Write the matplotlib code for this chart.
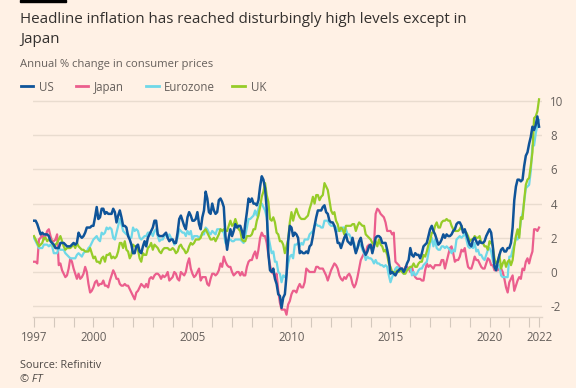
import numpy as np
import matplotlib
matplotlib.use("Agg")
import matplotlib.pyplot as plt
from matplotlib.patches import Rectangle

# ---------------- data (annual % change, monthly Jan 1997 - Jul 2022) ----------------
us = [3.0, 3.0, 2.8, 2.5, 2.2, 2.3, 2.2, 2.2, 2.2, 2.1, 1.8, 1.7,
      1.6, 1.4, 1.4, 1.4, 1.7, 1.7, 1.7, 1.6, 1.5, 1.5, 1.5, 1.6,
      1.7, 1.6, 1.7, 2.3, 2.1, 2.0, 2.1, 2.3, 2.6, 2.6, 2.6, 2.7,
      2.7, 3.2, 3.8, 3.1, 3.2, 3.7, 3.7, 3.4, 3.5, 3.4, 3.4, 3.4,
      3.7, 3.5, 2.9, 3.3, 3.6, 3.2, 2.7, 2.7, 2.6, 2.1, 1.9, 1.6,
      1.1, 1.1, 1.5, 1.6, 1.2, 1.1, 1.5, 1.8, 1.5, 2.0, 2.2, 2.4,
      2.6, 3.0, 3.0, 2.2, 2.1, 2.1, 2.1, 2.2, 2.3, 2.0, 1.8, 1.9,
      1.9, 1.7, 1.7, 2.3, 3.1, 3.3, 3.0, 2.7, 2.5, 3.2, 3.5, 3.3,
      3.0, 3.0, 3.1, 3.5, 2.8, 2.5, 3.2, 3.6, 4.7, 4.3, 3.5, 3.4,
      4.0, 3.6, 3.4, 3.5, 4.2, 4.3, 4.1, 3.8, 2.1, 1.3, 2.0, 2.5,
      2.1, 2.4, 2.8, 2.6, 2.7, 2.7, 2.4, 2.0, 2.8, 3.5, 4.3, 4.1,
      4.3, 4.0, 4.0, 3.9, 4.2, 5.0, 5.6, 5.4, 4.9, 3.7, 1.1, 0.1,
      0.0, 0.2, -0.4, -0.7, -1.3, -1.4, -2.1, -1.5, -1.3, -0.2, 1.8, 2.7,
      2.6, 2.1, 2.3, 2.2, 2.0, 1.1, 1.2, 1.1, 1.1, 1.2, 1.1, 1.5,
      1.6, 2.1, 2.7, 3.2, 3.6, 3.6, 3.6, 3.8, 3.9, 3.5, 3.4, 3.0,
      2.9, 2.9, 2.7, 2.3, 1.7, 1.7, 1.4, 1.7, 2.0, 2.2, 1.8, 1.7,
      1.6, 2.0, 1.5, 1.1, 1.4, 1.8, 2.0, 1.5, 1.2, 1.0, 1.2, 1.5,
      1.6, 1.1, 1.5, 2.0, 2.1, 2.1, 2.0, 1.7, 1.7, 1.7, 1.3, 0.8,
      -0.1, 0.0, -0.1, -0.2, 0.0, 0.1, 0.2, 0.2, 0.0, 0.2, 0.5, 0.7,
      1.4, 1.0, 0.9, 1.1, 1.0, 1.0, 0.8, 1.1, 1.5, 1.6, 1.7, 2.1,
      2.5, 2.7, 2.4, 2.2, 1.9, 1.6, 1.7, 1.9, 2.2, 2.0, 2.2, 2.1,
      2.1, 2.2, 2.4, 2.5, 2.8, 2.9, 2.9, 2.7, 2.3, 2.5, 2.2, 1.9,
      1.6, 1.5, 1.9, 2.0, 1.8, 1.6, 1.8, 1.7, 1.7, 1.8, 2.1, 2.3,
      2.5, 2.3, 1.5, 0.3, 0.1, 0.6, 1.0, 1.3, 1.4, 1.2, 1.2, 1.4,
      1.4, 1.7, 2.6, 4.2, 5.0, 5.4, 5.4, 5.3, 5.4, 6.2, 6.8, 7.0,
      7.5, 7.9, 8.5, 8.3, 8.6, 9.1, 8.5]

japan = [0.6, 0.6, 0.5, 1.9, 2.0, 2.2, 1.9, 2.1, 2.4, 2.5, 2.1, 1.8,
         1.8, 1.9, 2.2, 0.4, 0.5, 0.1, -0.1, -0.3, -0.2, 0.2, 0.8, 0.6,
         0.2, -0.1, -0.4, -0.1, -0.4, -0.3, -0.1, 0.3, 0.0, -0.7, -1.2, -1.1,
         -0.9, -0.6, -0.5, -0.8, -0.7, -0.7, -0.5, -0.8, -0.8, -0.9, -0.5, -0.2,
         0.1, -0.1, -0.4, -0.4, -0.7, -0.8, -0.8, -0.7, -0.8, -0.8, -1.0, -1.2,
         -1.4, -1.6, -1.2, -1.1, -0.9, -0.7, -0.8, -0.9, -0.7, -0.9, -0.4, -0.3,
         -0.4, -0.2, -0.1, -0.1, -0.2, -0.4, -0.2, -0.3, -0.2, 0.0, -0.5, -0.4,
         -0.3, 0.0, -0.1, -0.4, -0.5, 0.0, -0.1, -0.2, 0.0, 0.5, 0.8, 0.2,
         -0.1, -0.3, -0.2, 0.0, 0.2, -0.5, -0.3, -0.3, -0.3, -0.7, -0.8, -0.4,
         -0.1, -0.1, -0.2, -0.1, 0.1, 0.5, 0.3, 0.9, 0.6, 0.4, 0.3, 0.3,
         0.0, -0.2, -0.1, 0.0, 0.0, -0.2, 0.0, -0.2, -0.2, 0.3, 0.6, 0.7,
         0.7, 1.0, 1.2, 0.8, 1.3, 2.0, 2.3, 2.1, 2.1, 1.7, 1.0, 0.4,
         0.0, -0.1, -0.3, -0.1, -1.1, -1.8, -2.2, -2.2, -2.2, -2.5, -1.9, -1.7,
         -1.3, -1.1, -1.1, -1.2, -0.9, -0.7, -0.9, -0.9, -0.6, 0.2, 0.1, 0.0,
         0.0, 0.0, 0.0, 0.3, 0.3, 0.2, 0.2, 0.2, 0.0, -0.2, -0.5, -0.2,
         0.1, 0.3, 0.5, 0.4, 0.2, -0.2, -0.4, -0.5, -0.3, -0.4, -0.2, -0.1,
         -0.3, -0.7, -0.9, -0.7, -0.3, 0.2, 0.7, 0.9, 1.1, 1.1, 1.5, 1.6,
         1.4, 1.5, 1.6, 3.4, 3.7, 3.6, 3.4, 3.3, 3.2, 2.9, 2.4, 2.4,
         2.4, 2.2, 2.3, 0.6, 0.5, 0.4, 0.2, 0.2, 0.0, 0.3, 0.3, 0.2,
         0.0, 0.3, -0.1, -0.3, -0.4, -0.4, -0.4, -0.5, -0.5, 0.1, 0.5, 0.3,
         0.4, 0.3, 0.2, 0.4, 0.4, 0.4, 0.4, 0.7, 0.7, 0.2, 0.6, 1.0,
         1.4, 1.5, 1.1, 0.6, 0.7, 0.7, 0.9, 1.3, 1.2, 1.4, 0.8, 0.3,
         0.2, 0.2, 0.5, 0.9, 0.7, 0.7, 0.5, 0.3, 0.2, 0.2, 0.5, 0.8,
         0.7, 0.4, 0.4, 0.1, 0.1, 0.1, 0.3, 0.2, 0.0, -0.4, -0.9, -1.2,
         -0.6, -0.4, -0.2, -1.1, -0.8, -0.5, -0.3, -0.4, 0.2, 0.1, 0.6, 0.8,
         0.5, 0.9, 1.2, 2.5, 2.5, 2.4, 2.6]

eurozone = [2.0, 1.8, 1.6, 1.4, 1.4, 1.4, 1.6, 1.6, 1.6, 1.5, 1.6, 1.5,
            1.1, 1.1, 1.1, 1.4, 1.3, 1.3, 1.3, 1.1, 1.0, 0.9, 0.8, 0.8,
            0.8, 0.8, 1.0, 1.1, 1.0, 0.9, 1.1, 1.2, 1.2, 1.4, 1.5, 1.7,
            1.9, 2.0, 2.1, 1.9, 1.8, 2.3, 2.2, 2.3, 2.6, 2.5, 2.6, 2.5,
            2.0, 1.9, 2.3, 2.7, 3.1, 2.8, 2.4, 2.3, 2.2, 2.2, 2.0, 2.0,
            2.6, 2.4, 2.5, 2.4, 2.0, 1.9, 2.0, 2.1, 2.1, 2.3, 2.3, 2.3,
            2.1, 2.4, 2.5, 2.1, 1.8, 1.9, 1.9, 2.1, 2.2, 2.0, 2.2, 2.0,
            1.9, 1.6, 1.7, 2.0, 2.5, 2.4, 2.3, 2.3, 2.1, 2.4, 2.2, 2.4,
            1.9, 2.1, 2.1, 2.1, 2.0, 2.1, 2.2, 2.2, 2.6, 2.5, 2.3, 2.2,
            2.4, 2.3, 2.2, 2.5, 2.5, 2.5, 2.4, 2.3, 1.7, 1.6, 1.9, 1.9,
            1.8, 1.8, 1.9, 1.9, 1.9, 1.9, 1.8, 1.7, 2.1, 2.6, 3.1, 3.1,
            3.2, 3.3, 3.6, 3.3, 3.7, 4.0, 4.0, 3.8, 3.6, 3.2, 2.1, 1.6,
            1.1, 1.2, 0.6, 0.6, 0.0, -0.1, -0.6, -0.2, -0.3, -0.1, 0.5, 0.9,
            1.0, 0.8, 1.6, 1.6, 1.7, 1.5, 1.7, 1.6, 1.9, 1.9, 1.9, 2.2,
            2.3, 2.4, 2.7, 2.8, 2.7, 2.7, 2.6, 2.6, 3.0, 3.0, 3.0, 2.8,
            2.7, 2.7, 2.7, 2.6, 2.4, 2.4, 2.4, 2.6, 2.6, 2.5, 2.2, 2.2,
            2.0, 1.8, 1.7, 1.2, 1.4, 1.6, 1.6, 1.3, 1.1, 0.7, 0.9, 0.8,
            0.8, 0.7, 0.5, 0.7, 0.5, 0.5, 0.4, 0.4, 0.3, 0.4, 0.3, -0.2,
            -0.6, -0.3, -0.1, 0.2, 0.3, 0.2, 0.2, 0.1, -0.1, 0.1, 0.1, 0.2,
            0.3, -0.2, 0.0, -0.2, -0.1, 0.1, 0.2, 0.2, 0.4, 0.5, 0.6, 1.1,
            1.7, 2.0, 1.5, 1.9, 1.4, 1.3, 1.3, 1.5, 1.5, 1.4, 1.5, 1.4,
            1.3, 1.1, 1.3, 1.2, 1.9, 2.0, 2.1, 2.0, 2.1, 2.3, 1.9, 1.5,
            1.4, 1.5, 1.4, 1.7, 1.2, 1.3, 1.0, 1.0, 0.8, 0.7, 1.0, 1.3,
            1.4, 1.2, 0.7, 0.3, 0.1, 0.3, 0.4, -0.2, -0.3, -0.3, -0.3, -0.3,
            0.9, 0.9, 1.3, 1.6, 2.0, 1.9, 2.2, 3.0, 3.4, 4.1, 4.9, 5.0,
            5.1, 5.9, 7.4, 7.4, 8.1, 8.6, 8.9]

uk = [2.1, 1.9, 1.7, 1.5, 1.6, 1.7, 2.0, 2.0, 1.8, 1.9, 1.9, 1.7,
      1.5, 1.6, 1.7, 1.9, 2.1, 1.8, 1.5, 1.3, 1.4, 1.4, 1.4, 1.5,
      1.6, 1.4, 1.7, 1.5, 1.4, 1.3, 1.3, 1.2, 1.2, 1.2, 1.4, 1.1,
      0.8, 0.9, 0.6, 0.6, 0.5, 0.8, 0.9, 0.6, 1.0, 1.0, 1.1, 0.8,
      0.9, 0.8, 0.9, 1.2, 1.7, 1.7, 1.4, 1.8, 1.3, 1.2, 0.8, 1.0,
      1.6, 1.5, 1.5, 1.3, 0.8, 0.6, 1.1, 1.0, 1.0, 1.4, 1.5, 1.7,
      1.3, 1.6, 1.5, 1.4, 1.2, 1.1, 1.3, 1.4, 1.4, 1.4, 1.3, 1.3,
      1.4, 1.3, 1.1, 1.2, 1.5, 1.6, 1.4, 1.3, 1.1, 1.2, 1.5, 1.7,
      1.6, 1.7, 1.9, 1.9, 1.9, 2.0, 2.3, 2.4, 2.5, 2.3, 2.1, 1.9,
      1.9, 2.0, 1.8, 2.0, 2.2, 2.5, 2.4, 2.5, 2.4, 2.4, 2.7, 3.0,
      2.7, 2.8, 3.1, 2.8, 2.5, 2.4, 1.9, 1.8, 1.8, 2.1, 2.1, 2.1,
      2.2, 2.5, 2.5, 3.0, 3.3, 3.8, 4.4, 4.7, 5.2, 4.5, 4.1, 3.1,
      3.0, 3.2, 2.9, 2.3, 2.2, 1.8, 1.8, 1.6, 1.1, 1.5, 1.9, 2.9,
      3.5, 3.0, 3.4, 3.7, 3.4, 3.2, 3.1, 3.1, 3.1, 3.2, 3.3, 3.7,
      4.0, 4.4, 4.0, 4.5, 4.5, 4.2, 4.4, 4.5, 5.2, 5.0, 4.8, 4.2,
      3.6, 3.4, 3.5, 3.0, 2.8, 2.4, 2.6, 2.5, 2.2, 2.7, 2.7, 2.7,
      2.7, 2.8, 2.8, 2.4, 2.7, 2.9, 2.8, 2.7, 2.7, 2.2, 2.1, 2.0,
      1.9, 1.7, 1.6, 1.8, 1.5, 1.9, 1.6, 1.5, 1.2, 1.3, 1.0, 0.5,
      0.3, 0.0, 0.0, -0.1, 0.1, 0.0, 0.1, 0.0, -0.1, -0.1, 0.1, 0.2,
      0.3, 0.3, 0.5, 0.3, 0.3, 0.5, 0.6, 0.6, 1.0, 0.9, 1.2, 1.6,
      1.8, 2.3, 2.3, 2.7, 2.9, 2.6, 2.6, 2.9, 3.0, 3.0, 3.1, 3.0,
      3.0, 2.7, 2.5, 2.4, 2.4, 2.4, 2.5, 2.7, 2.4, 2.4, 2.3, 2.1,
      1.8, 1.9, 1.9, 2.1, 2.0, 2.0, 2.1, 1.7, 1.7, 1.5, 1.5, 1.3,
      1.8, 1.7, 1.5, 0.8, 0.5, 0.6, 1.0, 0.2, 0.5, 0.7, 0.3, 0.6,
      0.7, 0.4, 0.7, 1.5, 2.1, 2.5, 2.0, 3.2, 3.1, 4.2, 5.1, 5.4,
      5.5, 6.2, 7.0, 9.0, 9.1, 9.4, 10.1]

series_names = ["US", "Japan", "Eurozone", "UK"]
series_colors = ["#0f5499", "#eb5e8d", "#6fd8e8", "#96cc28"]
start_year = 1997
x_tick_labels = ["1997", "2000", "2005", "2010", "2015", "2020", "2022"]
x_tick_pos = [1997, 2000, 2005, 2010, 2015, 2020, 2022.5]
y_ticks = [-2, 0, 2, 4, 6, 8, 10]

title_line1 = "Headline inflation has reached disturbingly high levels except in"
title_line2 = "Japan"
subtitle = "Annual % change in consumer prices"
source = "Source: Refinitiv"
credit = "© FT"

# ---------------- figure ----------------
W, H = 576, 388
BG = "#fff1e5"
FONT = "Open Sans"
plt.rcParams["font.family"] = [FONT, "DejaVu Sans"]

fig = plt.figure(figsize=(W / 100, H / 100), dpi=100, facecolor=BG)

def fx(px):
    return px / W

def fy(py):
    return 1 - py / H

ax_l, ax_r, ax_t, ax_b = 33, 542, 95.9, 317.3
ax = fig.add_axes([fx(ax_l), fy(ax_b), fx(ax_r) - fx(ax_l), fy(ax_t) - fy(ax_b)])
ax.set_facecolor(BG)

n = len(us)
x = start_year + np.arange(n) / 12.0
data = {"US": us, "Japan": japan, "Eurozone": eurozone, "UK": uk}

order = ["Japan", "Eurozone", "UK", "US"]
for name in order:
    c = series_colors[series_names.index(name)]
    lw = 1.8 if name == "US" else 1.6
    ax.plot(x, data[name], color=c, lw=lw, solid_joinstyle="round", zorder=3)

ax.set_xlim(1996.95, 2022.65)
ax.set_ylim(-2.65, 10.3)

ax.yaxis.tick_right()
ax.set_yticks(y_ticks)
ax.set_yticklabels([str(v) for v in y_ticks])
ax.tick_params(axis="y", length=0, pad=6, labelsize=8.3, labelcolor="#66605c")
ax.grid(axis="y", color="#e9dccf", lw=1, zorder=0)

minor = list(range(1997, 2023)) + [2022.5]
ax.set_xticks(minor, minor=True)
ax.set_xticks(x_tick_pos)
ax.set_xticklabels(x_tick_labels)
ax.tick_params(axis="x", which="both", length=7, width=0.8, color="#d4c8bd",
               labelsize=8.3, labelcolor="#66605c", pad=3)

for s in ["top", "right", "left"]:
    ax.spines[s].set_visible(False)
ax.spines["bottom"].set_color("#e0d3c7")
ax.spines["bottom"].set_linewidth(1)

# top black bar
fig.patches.append(Rectangle((fx(20), fy(2)), fx(66) - fx(20), fy(0) - fy(2),
                             transform=fig.transFigure, color="#000000"))

# title, subtitle
fig.text(fx(20), fy(22.7), title_line1, fontsize=10.9, color="#33302e", va="baseline", ha="left")
fig.text(fx(20), fy(42.7), title_line2, fontsize=10.9, color="#33302e", va="baseline", ha="left")
fig.text(fx(20), fy(66.7), subtitle, fontsize=8.1, color="#66605c", va="baseline", ha="left")

# legend
leg_line_x = [20.5, 75.5, 146, 232]
leg_text_x = [39, 94.3, 164.3, 250.7]
for name, c, lx, tx in zip(series_names, series_colors, leg_line_x, leg_text_x):
    fig.add_artist(plt.Line2D([fx(lx), fx(lx + 12.5)], [fy(86.3), fy(86.3)],
                              transform=fig.transFigure, color=c, lw=2))
    fig.text(fx(tx), fy(90.7), name, fontsize=8.3, color="#66605c", va="baseline", ha="left")

# source
fig.text(fx(20), fy(368.5), source, fontsize=7.8, color="#4d4845", va="baseline", ha="left")
fig.text(fx(20), fy(381.5), credit, fontsize=7.8, color="#4d4845", va="baseline", ha="left",
         style="italic")

fig.savefig("out.png", dpi=100, facecolor=BG)
